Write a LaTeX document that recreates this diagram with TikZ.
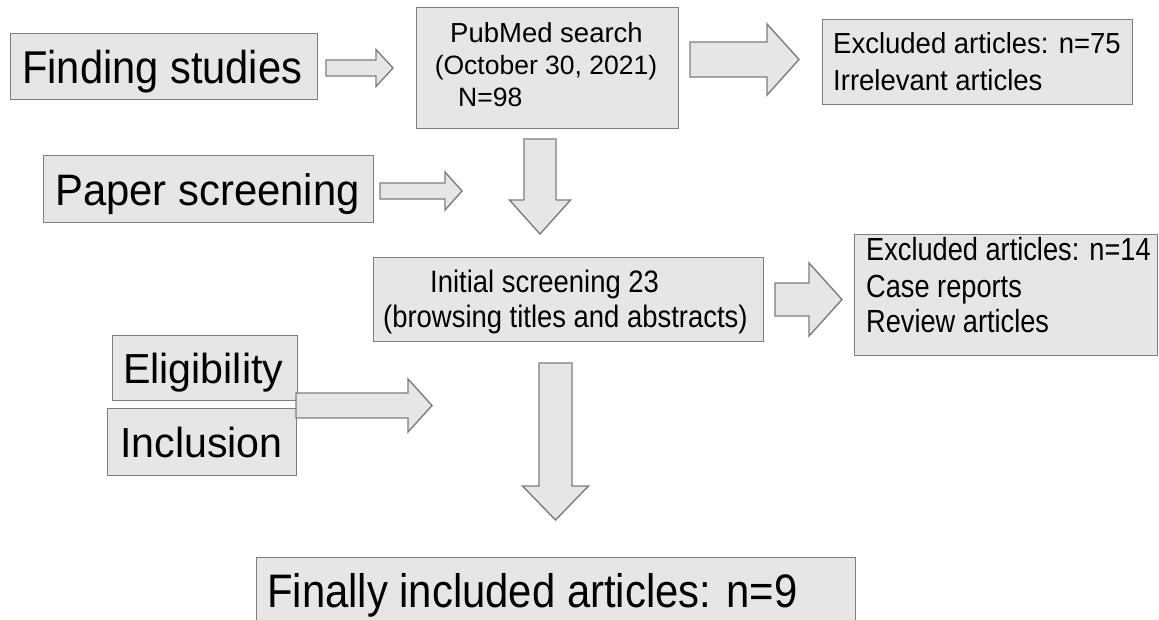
\documentclass[tikz,border=0pt]{standalone}
\usepackage{fontspec}
\setmainfont{Liberation Sans}
\usepackage{graphicx}
\definecolor{boxfill}{RGB}{230,230,230}
\definecolor{boxline}{RGB}{125,125,125}
\newcommand\Txt[3]{{\fontsize{#1}{#1}\selectfont\scalebox{#2}[1]{#3}}}
\newcommand\HArrow[6]{\draw[blk] (#1,#3-#4) -- (#6,#3-#4) -- (#6,#3-#5) -- (#2,#3) -- (#6,#3+#5) -- (#6,#3+#4) -- (#1,#3+#4) -- cycle;}
\newcommand\VArrow[6]{\draw[blk] (#3-#4,#1) -- (#3-#4,#6) -- (#3-#5,#6) -- (#3,#2) -- (#3+#5,#6) -- (#3+#4,#6) -- (#3+#4,#1) -- cycle;}
\tikzset{
  box/.style={draw=boxline, fill=boxfill, line width=1.4pt, inner sep=0pt, anchor=north west},
  blk/.style={draw=boxline, fill=boxfill, line width=1.4pt, line join=miter},
  lbl/.style={anchor=base west, inner sep=0pt},
  lblc/.style={anchor=base, inner sep=0pt}
}
\begin{document}
\begin{tikzpicture}[x=1pt,y=-1pt]
\useasboundingbox (0,0) rectangle (1159,619);
% boxes
\node[box, minimum width=307, minimum height=66] (finding) at (10,33) {};
\node[box, minimum width=262, minimum height=121] (pubmed) at (416,7) {};
\node[box, minimum width=310, minimum height=85] (excl75) at (822,19) {};
\node[box, minimum width=330, minimum height=67] (paper) at (43,155) {};
\node[box, minimum width=390, minimum height=84] (initial) at (373,257) {};
\node[box, minimum width=303, minimum height=121] (excl14) at (854,234) {};
\node[box, minimum width=185, minimum height=65] (elig) at (112,335) {};
\node[box, minimum width=189, minimum height=67] (incl) at (107,408) {};
\node[box, minimum width=599, minimum height=75] (final) at (256,557) {};
% texts
\node[lbl] (tfinding) at (22,83.3) {\Txt{46}{0.905}{Finding studies}};
\node[lblc] (tpub1) at (546.5,42) {\Txt{27.5}{1}{PubMed search}};
\node[lblc] (tpub2) at (546,74) {\Txt{26.5}{1}{(October 30, 2021)}};
\node[lbl] (tpub3) at (458,106) {\Txt{26.5}{1}{N=98}};
\node[lbl] (tex1) at (833,53) {\Txt{29}{0.948}{Excluded articles: n=75}};
\node[lbl] (tex2) at (833,90) {\Txt{29}{0.948}{Irrelevant articles}};
\node[lbl] (tpaper) at (55,205) {\Txt{44}{0.95}{Paper screening}};
\node[lbl] (tini1) at (430,292) {\Txt{31}{0.885}{Initial screening 23}};
\node[lbl] (tini2) at (383,327) {\Txt{31}{0.885}{(browsing titles and abstracts)}};
\node[lbl] (tex3) at (866,260) {\Txt{32}{0.85}{Excluded articles: n=14}};
\node[lbl] (tex4) at (866,297) {\Txt{32}{0.85}{Case reports}};
\node[lbl] (tex5) at (866,332) {\Txt{32}{0.85}{Review articles}};
\node[lbl] (telig) at (123,383) {\Txt{42}{0.98}{Eligibility}};
\node[lbl] (tincl) at (120,457) {\Txt{42}{0.98}{Inclusion}};
\node[lbl] (tfinal) at (267,607) {\Txt{47}{0.89}{Finally included articles: n=9}};
% block arrows
\HArrow{326}{393}{68}{8}{18.5}{376}
\HArrow{690}{799}{59.5}{17.5}{35.5}{767}
\HArrow{380}{462}{191}{8}{19}{445}
\HArrow{775}{842}{299.5}{16.5}{36.5}{809}
\HArrow{296}{432}{405.5}{12.5}{26.5}{408}
\VArrow{139}{234}{540}{16}{30.5}{200}
\VArrow{363}{520}{555.5}{16.5}{33}{486}
\end{tikzpicture}
\end{document}
